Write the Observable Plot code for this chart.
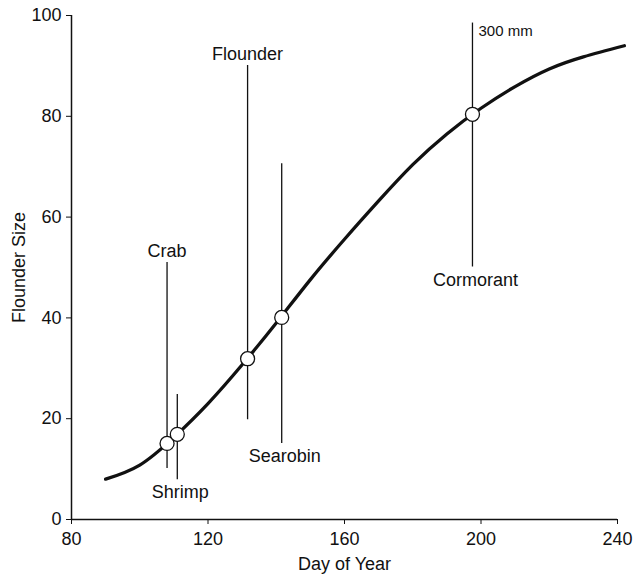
<!DOCTYPE html>
<html><head><meta charset="utf-8">
<script src="https://cdn.jsdelivr.net/npm/d3@7"></script>
<script src="https://cdn.jsdelivr.net/npm/@observablehq/plot@0.6"></script>
<style>body{margin:0;background:#fff}</style>
</head><body><div id="chart"></div>
<script>
// Growth curve (Flounder size vs day of year)
const curveDay  = [90, 100, 110, 120, 130, 140, 150, 160, 170, 180, 190, 200, 210, 220, 230, 242];
const curveSize = [8.0, 10.8, 16.3, 23.0, 30.7, 39.0, 47.6, 55.6, 63.2, 70.4, 76.5, 81.6, 85.9, 89.4, 91.8, 94.0];

// Predators: day at which flounder reaches them, vulnerable size range
const predators = ["Crab", "Shrimp", "Flounder", "Searobin", "Cormorant"];
const predDay   = [108, 111, 131.6, 141.6, 197.5];
const predSize  = [15.1, 16.9, 31.9, 40.1, 80.4];
const rangeLow  = [10.1, 7.9, 19.8, 15.1, 50.1];
const rangeHigh = [51, 24.8, 90.1, 70.6, 98.5];
const labelSide = ["top", "bottom", "top", "bottom", "bottom"];
const topNote = "300 mm";

const xTicks = [80, 120, 160, 200, 240];
const yTicks = [0, 20, 40, 60, 80, 100];

const curve = curveDay.map((d, i) => ({day: d, size: curveSize[i]}));
const preds = predators.map((name, i) => ({
  name, day: predDay[i], size: predSize[i], lo: rangeLow[i], hi: rangeHigh[i], side: labelSide[i]
}));

const chart = Plot.plot({
  width: 635,
  height: 577,
  marginLeft: 71,
  marginRight: 18,
  marginTop: 15,
  marginBottom: 58,
  style: {fontFamily: "'Liberation Sans', Arial, sans-serif", fontSize: "18px", color: "#111", background: "#fff"},
  x: {domain: [80, 240], ticks: xTicks, tickSize: 5, tickPadding: 8, label: "Day of Year", labelAnchor: "center", labelOffset: 50, labelArrow: "none"},
  y: {domain: [0, 100], ticks: yTicks, tickSize: 5, tickPadding: 5, label: "Flounder Size", labelAnchor: "center", labelOffset: 59, labelArrow: "none"},
  marks: [
    Plot.ruleX([80], {stroke: "#111", strokeWidth: 1.5}),
    Plot.ruleY([0], {stroke: "#111", strokeWidth: 1.5}),
    Plot.ruleX(preds, {x: "day", y1: "lo", y2: "hi", stroke: "#111", strokeWidth: 1.3}),
    Plot.line(curve, {x: "day", y: "size", curve: "natural", stroke: "#111", strokeWidth: 3.3, clip: false}),
    Plot.dot(preds, {x: "day", y: "size", r: 7, fill: "white", stroke: "#111", strokeWidth: 1.3}),
    Plot.text(preds.filter(d => d.side === "top"), {x: "day", y: "hi", text: "name", dy: -11, fontSize: 18, fill: "#111"}),
    Plot.text(preds.filter(d => d.side === "bottom"), {x: "day", y: "lo", text: "name", dy: 13, dx: 3, fontSize: 18, fill: "#111"}),
    Plot.text(preds.filter(d => d.name === "Cormorant"), {x: "day", y: "hi", text: () => topNote, dx: 6, dy: 8, textAnchor: "start", fontSize: 15, fill: "#111"})
  ]
});
document.getElementById("chart").append(chart);
</script>
</body></html>
